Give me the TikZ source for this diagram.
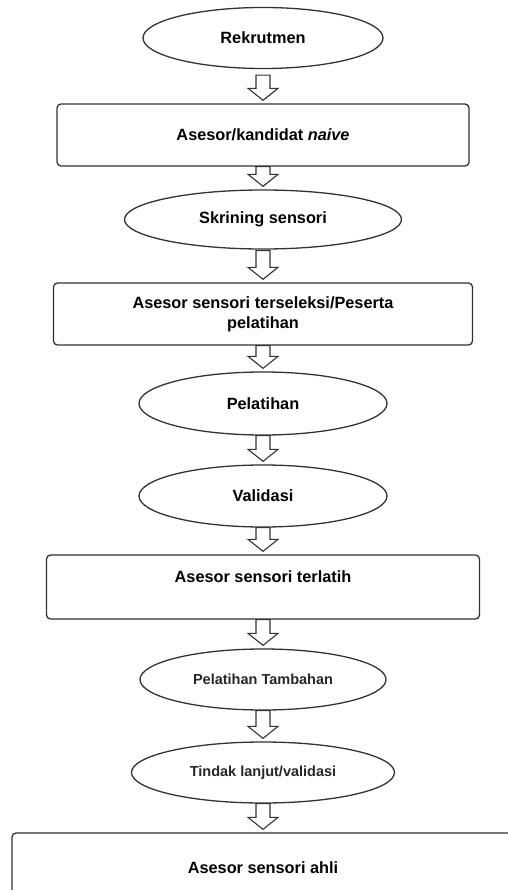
\documentclass[tikz,border=0pt]{standalone}
\usepackage{fontspec}
\setmainfont{Liberation Sans}
\usetikzlibrary{shapes.geometric,calc}
\begin{document}
\begin{tikzpicture}[x=1pt, y=-1pt,
    phase/.style={draw=black!80, line width=1.3pt, ellipse, inner sep=0pt,
        font=\fontsize{16.3}{20}\selectfont\bfseries},
    smallphase/.style={phase, font=\fontsize{14.5}{18}\selectfont\bfseries, text=black!85},
    stage/.style={draw=black!80, line width=1.3pt, rectangle, rounded corners=4pt,
        align=center, inner sep=0pt, font=\fontsize{16.3}{20}\selectfont\bfseries},
    blockarrow/.style={draw=black!80, line width=1.1pt, fill=white, line join=miter}]
    \useasboundingbox (0,0) rectangle (507,890);
    % Stages of the assessor
    \node[phase, minimum width=240, minimum height=61] (rekrut) at (263,38) {Rekrutmen};
    \node[stage, minimum width=412, minimum height=62] (kandidat) at (263,135) {Asesor/kandidat \textit{naive}};
    \node[phase, minimum width=277, minimum height=59] (skrining) at (263,219.5) {Skrining sensori};
    \node[stage, minimum width=419, minimum height=62] (terseleksi) at (263,314) {Asesor sensori terseleksi/Peserta\\pelatihan};
    \node[phase, minimum width=248, minimum height=63] (pelatihan) at (263,403.5) {Pelatihan};
    \node[phase, minimum width=248, minimum height=62] (validasi) at (263,496) {Validasi};
    \node[stage, minimum width=433, minimum height=64] (terlatih) at (263,587) {Asesor sensori terlatih\\~};
    \node[smallphase, minimum width=246, minimum height=61] (tambahan) at (263,679.5) {Pelatihan Tambahan};
    \node[smallphase, minimum width=263, minimum height=61] (tindak) at (263,772.5) {Tindak lanjut/validasi};
    \node[stage, minimum width=502, minimum height=70] (ahli) at (263,868) {Asesor sensori ahli};
    % Arrows
    \foreach \a/\b/\g in {rekrut/kandidat/6, kandidat/skrining/0, skrining/terseleksi/1,
        terseleksi/pelatihan/0, pelatihan/validasi/0, validasi/terlatih/0,
        terlatih/tambahan/0, tambahan/tindak/0, tindak/ahli/0}
        \draw[blockarrow] ($(\a.south -| \b.north)+(-7,\g)$) -- ($(\b.north)+(-7,-15)$)
            -- ($(\b.north)+(-15,-15)$) -- ($(\b.north)+(0,-3)$) -- ($(\b.north)+(15,-15)$)
            -- ($(\b.north)+(7,-15)$) -- ($(\a.south -| \b.north)+(7,\g)$) -- cycle;
\end{tikzpicture}
\end{document}
